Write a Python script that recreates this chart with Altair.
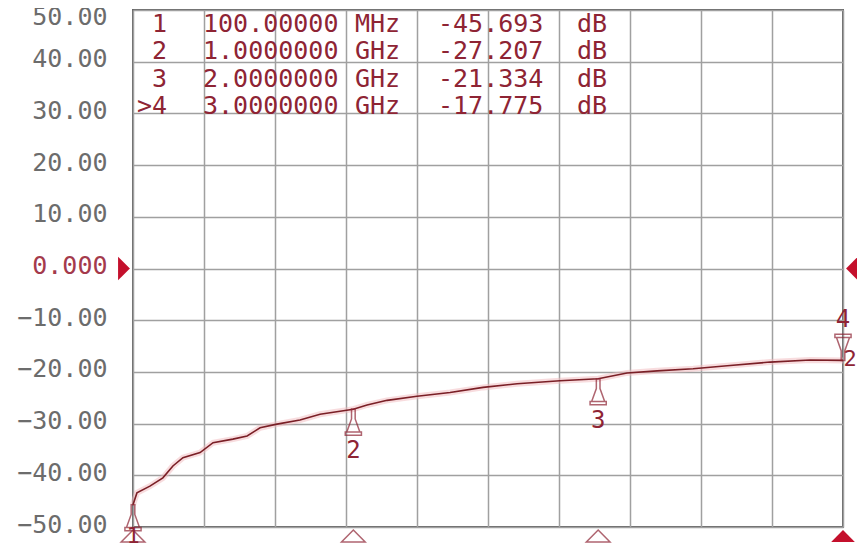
import altair as alt
import pandas as pd

# ---- data ----
freq_mhz = [100, 116, 169, 222, 263, 304, 374, 427, 508, 566, 619, 688, 782, 864,
            1000, 1056, 1138, 1260, 1395, 1530, 1669, 1844, 2000, 2118, 2241,
            2388, 2527, 2702, 2866, 3000]
trace_db = [-45.69, -43.4, -42.1, -40.5, -38.2, -36.6, -35.6, -33.7, -33.0, -32.4,
            -30.8, -30.1, -29.3, -28.2, -27.21, -26.4, -25.5, -24.7, -24.0, -23.0,
            -22.3, -21.7, -21.33, -20.2, -19.8, -19.4, -18.8, -18.1, -17.7, -17.78]

marker_ids = ["1", "2", "3", "4"]
marker_tags = [" 1", " 2", " 3", ">4"]
marker_freq = [100, 1000, 2000, 3000]
marker_freq_text = ["100.00000", "1.0000000", "2.0000000", "3.0000000"]
marker_unit = ["MHz", "GHz", "GHz", "GHz"]
marker_db = [-45.693, -27.207, -21.334, -17.775]
marker_db_text = ["-45.693", "-27.207", "-21.334", "-17.775"]

y_ticks = [50, 40, 30, 20, 10, 0, -10, -20, -30, -40, -50]
x_grid = [100, 390, 680, 970, 1260, 1550, 1840, 2130, 2420, 2710, 3000]
ref_level = 0

# ---- styles ----
FONT = "DejaVu Sans Mono"
TRACE = "#7a1f26"
MARK = "#8e2434"
ACTIVE = "#c4102c"

trace_df = pd.DataFrame({"f": freq_mhz, "db": trace_db})
mk_df = pd.DataFrame({"f": marker_freq, "db": marker_db, "id": marker_ids})
ref_df = pd.DataFrame({"f": [100, 3000], "db": [ref_level, ref_level], "side": ["L", "R"]})

xs = alt.Scale(domain=[100, 3000], nice=False, zero=False)
ys = alt.Scale(domain=[-50, 50], nice=False, zero=False)

x_axis = alt.Axis(values=x_grid, grid=True, labels=False, ticks=False, domain=False,
                  title=None, gridColor="#a0a0a0", gridWidth=1.5)
y_axis = alt.Axis(values=y_ticks, grid=True, ticks=False, domain=False, title=None,
                  gridColor="#a0a0a0", gridWidth=1.5,
                  labelFont=FONT, labelFontSize=25, labelPadding=26,
                  labelOffset={"condition": {"test": "datum.value == 50", "value": 6},
                               "value": -3},
                  labelOverlap=False, labelBound=False, labelFlush=False,
                  labelExpr="datum.value == 0 ? '0.000' : format(datum.value, '.2f')",
                  labelColor={"condition": {"test": "datum.value == 0", "value": "#a43a4c"},
                              "value": "#6c6c6c"})

X = alt.X("f:Q", scale=xs, axis=x_axis)
Y = alt.Y("db:Q", scale=ys, axis=y_axis)
enc = dict(x=X, y=Y)

base = alt.Chart(trace_df)
glow = base.mark_line(color="#f2b9bd", strokeWidth=6, opacity=0.5).encode(**enc)
trace = base.mark_line(color=TRACE, strokeWidth=1.6).encode(**enc)

MARK_UP = ("M-0.14,-1 L0.14,-1 L0.14,-0.25 L0.5,0.75 L-0.5,0.75 L-0.14,-0.25 Z "
           "M-0.62,0.75 L0.62,0.75 L0.62,1 L-0.62,1 Z")
MARK_DN = ("M-0.14,1 L0.14,1 L0.14,0.25 L0.5,-0.75 L-0.5,-0.75 L-0.14,0.25 Z "
           "M-0.62,-0.75 L0.62,-0.75 L0.62,-1 L-0.62,-1 Z")

mk_base = alt.Chart(mk_df)
under = mk_base.transform_filter("datum.id != '4'")
markers_up = under.mark_point(shape=MARK_UP, size=680, filled=False, color=MARK,
                              strokeWidth=1.5, yOffset=13).encode(**enc)
markers_up_lbl = under.transform_filter("datum.id != '1'").mark_text(
    font=FONT, fontSize=24, color=MARK, dy=42).encode(text="id:N", **enc)
marker1_lbl = under.transform_filter("datum.id == '1'").mark_text(
    font=FONT, fontSize=22, color=MARK, dy=31).encode(text="id:N", **enc)

active = mk_base.transform_filter("datum.id == '4'")
marker_dn = active.mark_point(shape=MARK_DN, size=680, filled=False, color=MARK,
                              strokeWidth=1.5, yOffset=-13).encode(**enc)
marker_dn_lbl = active.mark_text(font=FONT, fontSize=24, color=MARK, dy=-40).encode(
    text="id:N", **enc)
marker_dn_side = active.mark_text(font=FONT, fontSize=22, color=MARK, dx=7, dy=-1).encode(
    text=alt.value("2"), **enc)

BOT = "M0,-0.5 L1,0.5 L-1,0.5 Z"
bot_enc = dict(x=X, y=alt.datum(-50, scale=ys, axis=y_axis))
bottom_open = under.mark_point(shape=BOT, size=560, filled=False, color=MARK,
                               strokeWidth=1.5, yOffset=9).encode(**bot_enc)
bottom_active = active.mark_point(shape=BOT, size=560, filled=True, color=ACTIVE,
                                  opacity=1, yOffset=9).encode(**bot_enc)

ref_l = alt.Chart(ref_df).transform_filter("datum.side == 'L'").mark_point(
    shape="M-0.5,-1 L0.5,0 L-0.5,1 Z", size=560, filled=True, color=ACTIVE, opacity=1,
    xOffset=-9).encode(**enc)
ref_r = alt.Chart(ref_df).transform_filter("datum.side == 'R'").mark_point(
    shape="M0.5,-1 L-0.5,0 L0.5,1 Z", size=560, filled=True, color=ACTIVE, opacity=1,
    xOffset=9).encode(**enc)

# marker readout table (one multi-line text block per column)
LH = 27.3
tbl = pd.DataFrame({
    "tag": ["\n".join(marker_tags)],
    "freq": ["\n".join(marker_freq_text)],
    "unit": ["\n".join(marker_unit)],
    "val": ["\n".join(marker_db_text)],
    "db": ["\n".join(["dB"] * len(marker_ids))],
})
tb = alt.Chart(tbl)
def col(field, x, align):
    return tb.mark_text(font=FONT, fontSize=25, color=MARK, align=align,
                        baseline="line-top", lineHeight=LH, lineBreak="\n").encode(
        x=alt.value(x), y=alt.value(1), text=f"{field}:N")

table = (col("tag", 34, "right") + col("freq", 70, "left") + col("unit", 222, "left")
         + col("val", 305, "left") + col("db", 444, "left"))

chart = alt.layer(
    glow, trace, bottom_open, bottom_active, markers_up, markers_up_lbl, marker1_lbl,
    marker_dn, marker_dn_lbl, marker_dn_side, ref_l, ref_r, table
).properties(
    width=710, height=517,
    autosize=alt.AutoSizeParams(type="none"),
    padding={"left": 125, "top": 2, "right": 14, "bottom": 20},
    background="white",
).configure_view(stroke="#666666", strokeWidth=2)

chart.save("out.html", embed_options={"renderer": "svg", "actions": False})
